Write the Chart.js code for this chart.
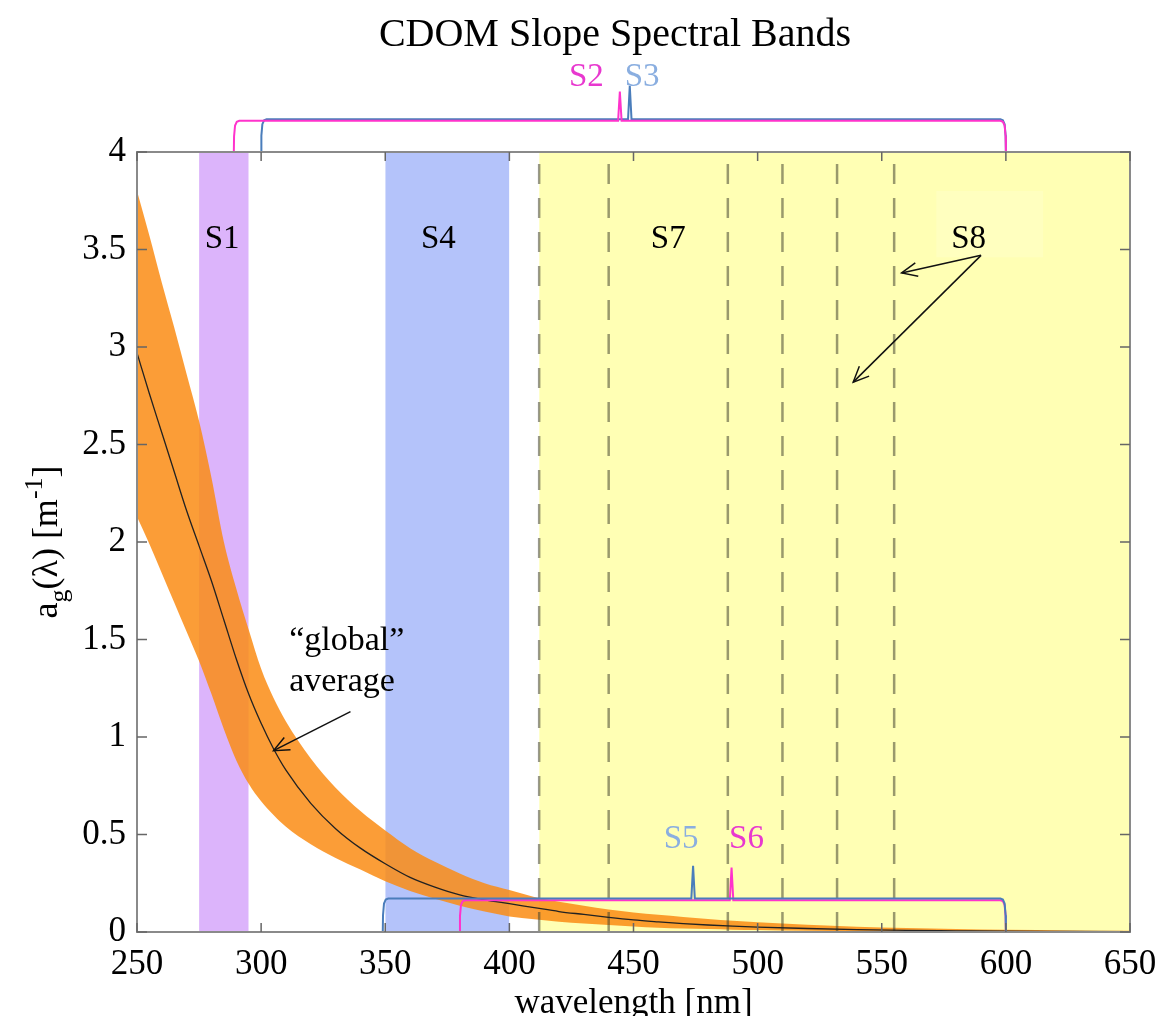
<!DOCTYPE html>
<html>
<head>
<meta charset="utf-8">
<script src="https://cdn.jsdelivr.net/npm/chart.js@4.4.0/dist/chart.umd.min.js"></script>
<style>
  body { margin: 0; background: #fff; }
  #wrap { position: relative; width: 1157px; height: 1016px; }
</style>
</head>
<body>
<div id="wrap"><canvas id="cdomChart"></canvas></div>
<script>
// wavelength grid (nm) and CDOM absorption a_g (1/m)
const wavelengths = [250, 255, 260, 265, 270, 275, 280, 285, 290, 295, 300, 305, 310, 320, 330, 340, 350, 360, 370, 380,
    390, 400, 410, 420, 430, 440, 450, 460, 470, 480, 490, 500, 520, 540, 560, 580, 600, 625, 650];
const agMean = [2.97, 2.76, 2.56, 2.36, 2.16, 1.98, 1.80, 1.60, 1.40, 1.22, 1.07, 0.94, 0.83, 0.66, 0.53, 0.43, 0.35, 0.28, 0.23, 0.19,
    0.165, 0.145, 0.125, 0.105, 0.09, 0.075, 0.062, 0.052, 0.043, 0.036, 0.030, 0.025, 0.018, 0.012, 0.008, 0.006, 0.004, 0.003, 0.002];
const agUpper = [3.80, 3.57, 3.33, 3.10, 2.86, 2.62, 2.33, 2.00, 1.76, 1.55, 1.35, 1.20, 1.08, 0.89, 0.74, 0.62, 0.52, 0.43, 0.36, 0.30,
    0.25, 0.215, 0.18, 0.155, 0.135, 0.115, 0.10, 0.088, 0.077, 0.067, 0.058, 0.05, 0.037, 0.027, 0.02, 0.015, 0.011, 0.008, 0.006];
const agLower = [2.13, 1.99, 1.84, 1.69, 1.54, 1.39, 1.22, 1.04, 0.88, 0.76, 0.67, 0.60, 0.54, 0.45, 0.38, 0.32, 0.26, 0.21, 0.17, 0.135,
    0.105, 0.08, 0.065, 0.052, 0.043, 0.036, 0.028, 0.022, 0.018, 0.015, 0.012, 0.01, 0.006, 0.004, 0.003, 0.002, 0.001, 0.001, 0.0];

// shaded spectral bands
const bandFrom = [275, 350, 412];
const bandTo = [295, 400, 650];
const bandColors = ['#dcb4fb', '#b4c3fa', '#ffffb4'];

// dashed band edges (S7 / S8)
const dashedAt = [412, 440, 488, 510, 532, 555];

// brackets S2, S3 (top) and S5, S6 (bottom)
const bracketStart = [289, 300, 349, 380];
const bracketEnd = [600, 600, 600, 600];
const bracketBase = [4, 4, 0, 0];
const bracketLevel = [4.16, 4.168, 0.172, 0.163];
const bracketPeak = [444.5, 448.5, 474, 489.5];
const bracketTop = [4.31, 4.34, 0.34, 0.33];
const bracketColors = ['#ff33cc', '#4a7dbb', '#4a7dbb', '#ff33cc'];

// labels
const labelText = ['S1', 'S4', 'S7', 'S8', 'S2', 'S3', 'S5', 'S6'];
const labelX = [284.3, 371.4, 464, 585, 431, 453.5, 469.2, 495.5];
const labelY = [3.51, 3.51, 3.51, 3.51, 4.338, 4.338, 0.431, 0.431];
const labelColors = ['#000', '#000', '#000', '#000', '#e838cf', '#8aaee0', '#8aaee0', '#e838cf'];

// arrows (global average, S8)
const arrowFromX = [336, 590, 590];
const arrowFromY = [1.13, 3.47, 3.47];
const arrowToX = [305, 558, 538.5];
const arrowToY = [0.93, 3.38, 2.82];

const serif = '"Liberation Serif", "Times New Roman", serif';

function xy(ys) {
    return wavelengths.map((w, i) => ({ x: w, y: ys[i] }));
}

function bracketPoints(i) {
    const s = bracketStart[i], e = bracketEnd[i], b = bracketBase[i], l = bracketLevel[i];
    const p = bracketPeak[i], t = bracketTop[i], d = l - b;
    return [
        { x: s, y: b }, { x: s + 0.1, y: b + 0.5 * d }, { x: s + 0.5, y: b + 0.85 * d }, { x: s + 1.2, y: b + 0.97 * d }, { x: s + 2.2, y: l },
        { x: p - 0.7, y: l }, { x: p, y: t }, { x: p + 0.7, y: l },
        { x: e - 2.2, y: l }, { x: e - 1.2, y: b + 0.97 * d }, { x: e - 0.5, y: b + 0.85 * d }, { x: e - 0.1, y: b + 0.5 * d }, { x: e, y: b }
    ];
}

const datasets = [];

bandFrom.forEach((f, i) => {
    datasets.push({
        data: [{ x: f, y: 4 }, { x: bandTo[i], y: 4 }],
        fill: 'origin',
        backgroundColor: bandColors[i],
        borderWidth: 0,
        order: 10
    });
});

// orange envelope (upper filled down to lower)
datasets.push({
    data: xy(agUpper),
    fill: '+1',
    backgroundColor: 'rgba(250, 140, 20, 0.85)',
    borderWidth: 0,
    cubicInterpolationMode: 'monotone',
    order: 8
});
datasets.push({
    data: xy(agLower),
    fill: false,
    borderWidth: 0,
    cubicInterpolationMode: 'monotone',
    order: 8
});

dashedAt.forEach(d => {
    datasets.push({
        data: [{ x: d, y: 0 }, { x: d, y: 4 }],
        borderColor: 'rgba(70, 70, 50, 0.55)',
        borderWidth: 2.5,
        borderDash: [20, 14],
        fill: false,
        order: 6
    });
});

datasets.push({
    data: xy(agMean),
    borderColor: '#222',
    borderWidth: 1.3,
    fill: false,
    cubicInterpolationMode: 'monotone',
    order: 4
});

bracketStart.forEach((s, i) => {
    datasets.push({
        data: bracketPoints(i),
        borderColor: bracketColors[i],
        borderWidth: 2,
        fill: false,
        tension: 0,
        clip: false,
        order: 2
    });
});

function drawArrow(ctx, x1, y1, x2, y2) {
    ctx.beginPath();
    ctx.moveTo(x1, y1);
    ctx.lineTo(x2, y2);
    ctx.stroke();
    const a = Math.atan2(y2 - y1, x2 - x1), L = 17, w = 0.42;
    ctx.beginPath();
    ctx.moveTo(x2 - L * Math.cos(a - w), y2 - L * Math.sin(a - w));
    ctx.lineTo(x2, y2);
    ctx.lineTo(x2 - L * Math.cos(a + w), y2 - L * Math.sin(a + w));
    ctx.stroke();
}

const overlay = {
    id: 'overlay',
    afterDatasetsDraw(chart) {
        const ctx = chart.ctx, xs = chart.scales.x, ys = chart.scales.y;
        ctx.save();

        // faint box behind S8
        ctx.fillStyle = 'rgba(255, 255, 255, 0.15)';
        ctx.fillRect(xs.getPixelForValue(572), ys.getPixelForValue(3.8), xs.getPixelForValue(615) - xs.getPixelForValue(572), ys.getPixelForValue(3.46) - ys.getPixelForValue(3.8));

        ctx.font = '33px ' + serif;
        ctx.textAlign = 'center';
        ctx.textBaseline = 'alphabetic';
        labelText.forEach((t, i) => {
            ctx.fillStyle = labelColors[i];
            ctx.fillText(t, xs.getPixelForValue(labelX[i]), ys.getPixelForValue(labelY[i]));
        });

        ctx.fillStyle = '#000';
        ctx.font = '34px ' + serif;
        ctx.textAlign = 'left';
        ctx.fillText('\u201Cglobal\u201D', xs.getPixelForValue(311.3), ys.getPixelForValue(1.446));
        ctx.fillText('average', xs.getPixelForValue(311.3), ys.getPixelForValue(1.236));

        ctx.strokeStyle = '#111';
        ctx.lineWidth = 1.5;
        arrowFromX.forEach((fx, i) => {
            drawArrow(ctx, xs.getPixelForValue(fx), ys.getPixelForValue(arrowFromY[i]),
                xs.getPixelForValue(arrowToX[i]), ys.getPixelForValue(arrowToY[i]));
        });
        ctx.restore();
    },
    afterDraw(chart) {
        const ctx = chart.ctx, a = chart.chartArea, xs = chart.scales.x, ys = chart.scales.y;
        ctx.save();
        // axes box
        ctx.strokeStyle = '#8a8a8a';
        ctx.lineWidth = 2;
        ctx.strokeRect(a.left, a.top, a.right - a.left, a.bottom - a.top);

        // inward ticks on all sides
        ctx.strokeStyle = '#666';
        ctx.lineWidth = 1.5;
        ctx.beginPath();
        xs.ticks.forEach(t => {
            const px = xs.getPixelForValue(t.value);
            ctx.moveTo(px, a.bottom); ctx.lineTo(px, a.bottom - 9);
            ctx.moveTo(px, a.top); ctx.lineTo(px, a.top + 9);
        });
        ys.ticks.forEach(t => {
            const py = ys.getPixelForValue(t.value);
            ctx.moveTo(a.left, py); ctx.lineTo(a.left + 10, py);
            ctx.moveTo(a.right, py); ctx.lineTo(a.right - 10, py);
        });
        ctx.stroke();

        // chart title
        ctx.fillStyle = '#000';
        ctx.textAlign = 'center';
        ctx.textBaseline = 'alphabetic';
        ctx.font = '40px ' + serif;
        ctx.fillText('CDOM Slope Spectral Bands', 615, 46);

        // x axis title
        ctx.font = '35px ' + serif;
        ctx.fillText('wavelength [nm]', (a.left + a.right) / 2, 1013);

        // y axis title a_g(lambda) [m^-1], rotated
        const big = '36px ' + serif, small = '26px ' + serif;
        const parts = [
            { t: 'a', f: big, dy: 0 },
            { t: 'g', f: small, dy: 10 },
            { t: '(\u03BB) [m', f: big, dy: 0 },
            { t: '-1', f: small, dy: -15 },
            { t: ']', f: big, dy: 0 }
        ];
        let total = 0;
        parts.forEach(p => { ctx.font = p.f; p.w = ctx.measureText(p.t).width; total += p.w; });
        ctx.translate(57, ys.getPixelForValue(2.0));
        ctx.rotate(-Math.PI / 2);
        ctx.textAlign = 'left';
        let cx = -total / 2;
        parts.forEach(p => {
            ctx.font = p.f;
            ctx.fillText(p.t, cx, p.dy);
            cx += p.w;
        });
        ctx.restore();
    }
};

new Chart(document.getElementById('cdomChart'), {
    type: 'line',
    data: { datasets: datasets },
    options: {
        responsive: true,
        maintainAspectRatio: false,
        animation: false,
        layout: { padding: { top: 152, right: 27, left: 0, bottom: 0 } },
        elements: { point: { radius: 0 } },
        plugins: { legend: { display: false }, tooltip: { enabled: false } },
        scales: {
            x: {
                type: 'linear',
                min: 250,
                max: 650,
                afterFit: s => { s.height = 84; s.paddingRight = 0; s.paddingLeft = 0; },
                grid: { display: false, drawTicks: false },
                border: { display: false },
                ticks: { stepSize: 50, color: '#000', padding: 12, maxRotation: 0, autoSkip: false, font: { family: serif, size: 35 } }
            },
            y: {
                min: 0,
                max: 4,
                afterFit: s => { s.width = 137; },
                grid: { display: false, drawTicks: false },
                border: { display: false },
                ticks: {
                    stepSize: 0.5,
                    color: '#000',
                    padding: 11,
                    font: { family: serif, size: 35 },
                    callback: v => String(v)
                }
            }
        }
    },
    plugins: [overlay]
});
</script>
</body>
</html>
